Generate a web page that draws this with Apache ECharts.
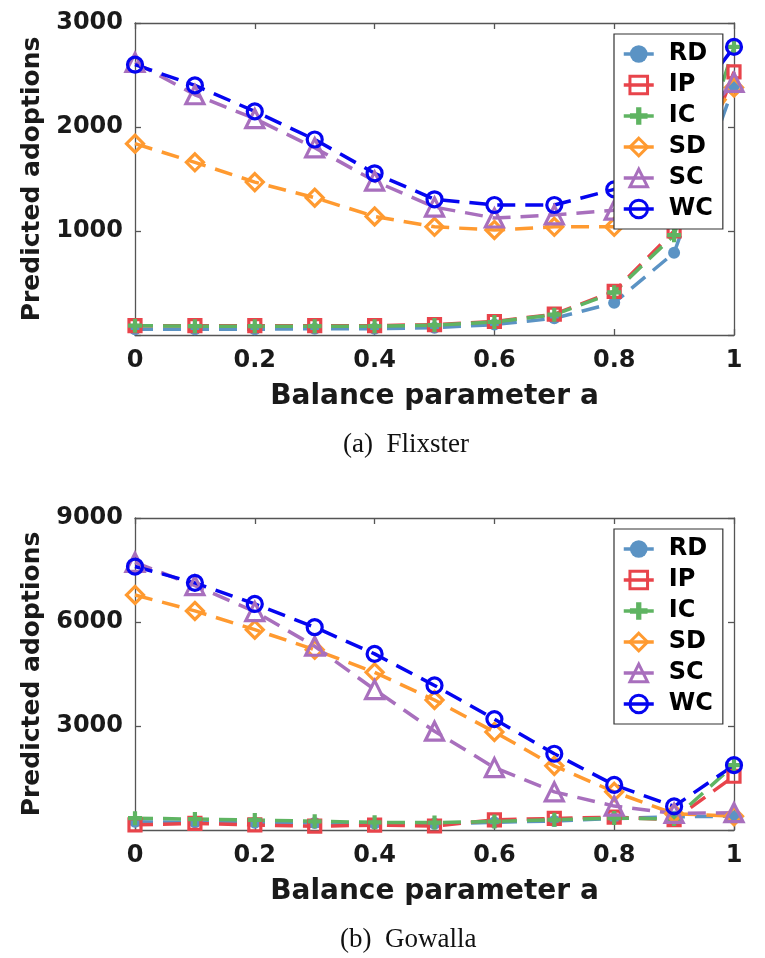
<!DOCTYPE html>
<html>
<head>
<meta charset="utf-8">
<script src="https://cdn.jsdelivr.net/npm/echarts@6/dist/echarts.min.js"></script>
<style>
  html, body { margin: 0; padding: 0; background: #fff; }
  #chart { width: 765px; height: 958px; }
</style>
</head>
<body>
<div id="chart"></div>
<script>
// ---------- data ----------
const alphas = [0, 0.1, 0.2, 0.3, 0.4, 0.5, 0.6, 0.7, 0.8, 0.9, 1.0];
const xTickLabels = ['0', '0.2', '0.4', '0.6', '0.8', '1'];
const seriesNames = ['RD', 'IP', 'IC', 'SD', 'SC', 'WC'];

// (a) Flixster
const flixRD = [55, 55, 55, 60, 60, 70, 100, 160, 310, 790, 2400];
const flixIP = [90, 90, 90, 90, 90, 100, 130, 200, 420, 1000, 2530];
const flixIC = [90, 85, 85, 85, 85, 95, 125, 195, 410, 960, 2770];
const flixSD = [1840, 1660, 1470, 1320, 1140, 1040, 1010, 1040, 1040, 1600, 2380];
const flixSC = [2620, 2310, 2080, 1800, 1480, 1230, 1125, 1155, 1200, 1800, 2430];
const flixWC = [2600, 2400, 2150, 1880, 1555, 1305, 1250, 1250, 1400, 2000, 2770];

// (b) Gowalla
const gowRD = [240, 220, 210, 200, 190, 180, 220, 260, 330, 380, 400];
const gowIP = [150, 190, 145, 110, 140, 115, 290, 335, 370, 300, 1550];
const gowIC = [340, 315, 290, 250, 220, 215, 245, 295, 345, 320, 1870];
const gowSD = [6780, 6320, 5780, 5200, 4550, 3750, 2830, 1850, 1100, 470, 400];
const gowSC = [7720, 7050, 6300, 5300, 4050, 2850, 1800, 1100, 690, 480, 500];
const gowWC = [7600, 7130, 6520, 5850, 5080, 4170, 3200, 2200, 1300, 680, 1870];

const yTicksFlix = { min: 0, max: 3000, interval: 1000 };
const yTicksGow = { min: 0, max: 9000, interval: 3000 };

// ---------- styles ----------
const colors = {
  RD: '#5b93c4', IP: '#e8444b', IC: '#5fb462',
  SD: '#ff9a30', SC: '#a86fbd', WC: '#0505f0'
};
const plusPath = 'path://M-1.5,-5H1.5V-1.5H5V1.5H1.5V5H-1.5V1.5H-5V-1.5H-1.5Z';
const markers = {
  RD: { symbol: 'circle', size: 12, hollow: false },
  IP: { symbol: 'rect', size: 12, hollow: true },
  IC: { symbol: plusPath, size: 14, hollow: false },
  SD: { symbol: 'diamond', size: 17, hollow: true },
  SC: { symbol: 'triangle', size: 18, hollow: true },
  WC: { symbol: 'circle', size: 15, hollow: true }
};
const FONT = 'DejaVu Sans';
const axisColor = '#555';
const textColor = '#1a1a1a';

function pairs(ys) { return alphas.map((x, i) => [x, ys[i]]); }

function makeSeries(name, ys, axisIdx) {
  const m = markers[name];
  const c = colors[name];
  return {
    name: name,
    type: 'line',
    xAxisIndex: axisIdx,
    yAxisIndex: axisIdx,
    data: pairs(ys),
    symbol: m.symbol,
    symbolSize: m.size,
    showAllSymbol: true,
    animation: false,
    lineStyle: { color: c, width: 3.5, type: [18, 10] },
    itemStyle: m.hollow
      ? { color: 'rgba(255,255,255,0)', borderColor: c, borderWidth: 3.2 }
      : { color: c, borderWidth: 0 },
    emphasis: { disabled: true },
    z: 2
  };
}

function mainX(gridIndex) {
  return {
    type: 'value', gridIndex: gridIndex, min: 0, max: 1, interval: 0.2,
    name: 'Balance parameter a', nameLocation: 'middle', nameGap: 48,
    nameTextStyle: { fontFamily: FONT, fontWeight: 'bold', fontSize: 28, color: textColor },
    axisLine: { show: true, onZero: false, lineStyle: { color: axisColor, width: 1.3 } },
    axisTick: { show: true, inside: true, length: 6, lineStyle: { color: axisColor, width: 1.3 } },
    axisLabel: {
      margin: 14, fontFamily: FONT, fontWeight: 'bold', fontSize: 24, color: textColor,
      formatter: v => xTickLabels[Math.round(v / 0.2)]
    },
    splitLine: { show: false }
  };
}
function topX(gridIndex) {
  return {
    type: 'value', gridIndex: gridIndex, min: 0, max: 1, interval: 0.2, position: 'top',
    axisLine: { show: true, onZero: false, lineStyle: { color: axisColor, width: 1.3 } },
    axisTick: { show: true, inside: true, length: 6, lineStyle: { color: axisColor, width: 1.3 } },
    axisLabel: { show: false }, splitLine: { show: false }
  };
}
function mainY(gridIndex, t) {
  return {
    type: 'value', gridIndex: gridIndex, min: t.min, max: t.max, interval: t.interval,
    name: 'Predicted adoptions', nameLocation: 'middle', nameGap: 88,
    nameTextStyle: { fontFamily: FONT, fontWeight: 'bold', fontSize: 25, color: textColor },
    axisLine: { show: true, onZero: false, lineStyle: { color: axisColor, width: 1.3 } },
    axisTick: { show: true, inside: true, length: 6, lineStyle: { color: axisColor, width: 1.3 } },
    axisLabel: {
      margin: 12, fontFamily: FONT, fontWeight: 'bold', fontSize: 24, color: textColor,
      formatter: v => (v === 0 ? '' : String(v))
    },
    splitLine: { show: false }
  };
}
function rightY(gridIndex, t) {
  return {
    type: 'value', gridIndex: gridIndex, min: t.min, max: t.max, interval: t.interval, position: 'right',
    axisLine: { show: true, onZero: false, lineStyle: { color: axisColor, width: 1.3 } },
    axisTick: { show: true, inside: true, length: 6, lineStyle: { color: axisColor, width: 1.3 } },
    axisLabel: { show: false }, splitLine: { show: false }
  };
}
function legendAt(top) {
  return {
    left: 614, top: top, orient: 'vertical',
    data: seriesNames,
    backgroundColor: '#fff', borderColor: '#333', borderWidth: 1.2,
    padding: [8, 10, 8, 8],
    itemWidth: 30, itemHeight: 22, itemGap: 7,
    selectedMode: false,
    lineStyle: { type: 'solid', width: 3.5 },
    itemStyle: { borderWidth: 3 },
    textStyle: { fontFamily: FONT, fontWeight: 'bold', fontSize: 24, color: '#000', lineHeight: 24, padding: [0, 0, 0, 10] },
    z: 10
  };
}

const series = [];
const flix = { RD: flixRD, IP: flixIP, IC: flixIC, SD: flixSD, SC: flixSC, WC: flixWC };
const gow = { RD: gowRD, IP: gowIP, IC: gowIC, SD: gowSD, SC: gowSC, WC: gowWC };
seriesNames.forEach(n => series.push(makeSeries(n, flix[n], 0)));
seriesNames.forEach(n => series.push(makeSeries(n, gow[n], 2)));

const option = {
  backgroundColor: '#fff',
  animation: false,
  title: [
    { text: '(a)  Flixster', left: 343, top: 431, padding: 0,
      textStyle: { fontFamily: 'Liberation Serif', fontWeight: 'normal', fontSize: 27, color: '#111' } },
    { text: '(b)  Gowalla', left: 340, top: 926, padding: 0,
      textStyle: { fontFamily: 'Liberation Serif', fontWeight: 'normal', fontSize: 27, color: '#111' } }
  ],
  grid: [
    { left: 135, top: 23, width: 599, height: 312 },
    { left: 135, top: 518, width: 599, height: 312 }
  ],
  xAxis: [mainX(0), topX(0), mainX(1), topX(1)],
  yAxis: [mainY(0, yTicksFlix), rightY(0, yTicksFlix), mainY(1, yTicksGow), rightY(1, yTicksGow)],
  legend: [legendAt(34), legendAt(529)],
  series: series
};

const chart = echarts.init(document.getElementById('chart'), null, { renderer: 'canvas' });
chart.setOption(option);
</script>
</body>
</html>
